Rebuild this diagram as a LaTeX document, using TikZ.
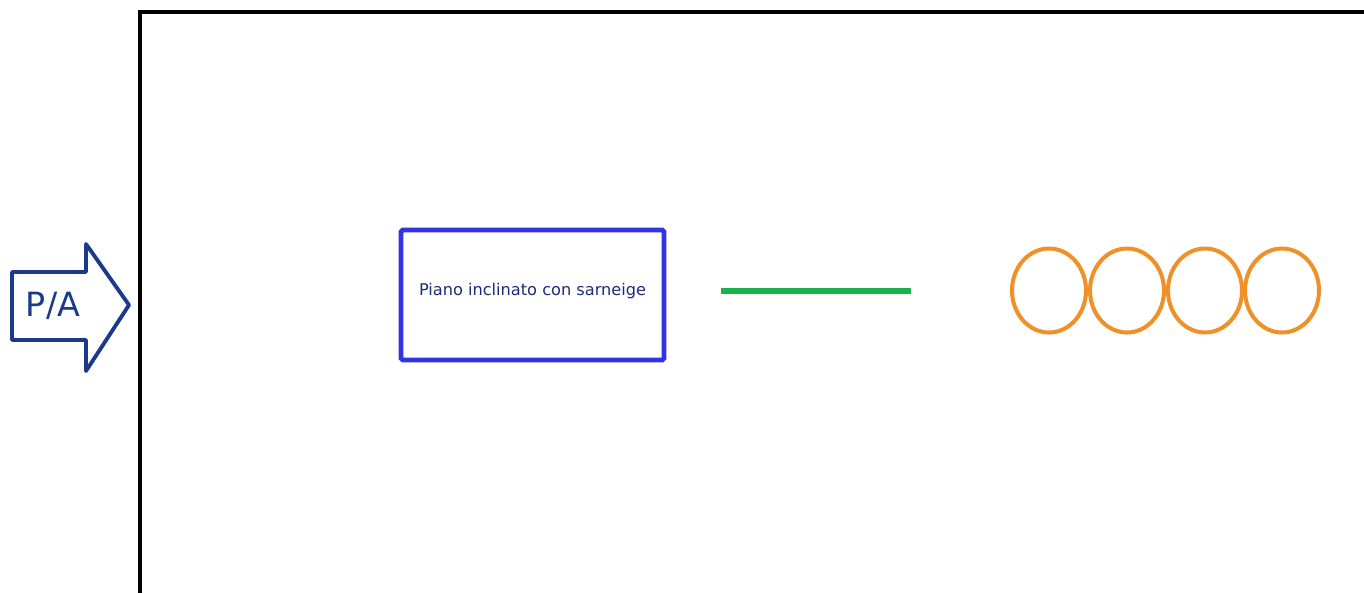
\documentclass[tikz,border=0pt]{standalone}
\usepackage{fontspec}
\setmainfont{DejaVu Sans}
\usetikzlibrary{shapes.geometric}
\definecolor{navy}{HTML}{1B3A8C}
\definecolor{inkblue}{HTML}{1E2A78}
\definecolor{boxblue}{HTML}{3232E6}
\definecolor{railgreen}{HTML}{1DB050}
\definecolor{ringorange}{HTML}{EF9128}
\tikzset{
	frameline/.style={line width=2.8pt, black},
	pianobox/.style={draw=boxblue, line width=2.8pt, rounded corners=1pt,
		minimum width=263*0.02cm, minimum height=130*0.02cm, text depth=7pt,
		text=inkblue, font=\fontsize{9.2}{10}\selectfont},
	ring/.style={ellipse, draw=ringorange, line width=2.3pt, inner sep=0pt,
		minimum width=74*0.02cm, minimum height=84*0.02cm}
}
\begin{document}
\begin{tikzpicture}[x=0.02cm, y=-0.02cm]
		\useasboundingbox (0,0) rectangle (1364,593);
		\draw[frameline] (140,593) -- (140,12) -- (1364,12);
		\draw[navy, line width=2.2pt, line join=round]
		(12,272) -- (86,272) -- (86,244) -- (129,305) -- (86,371)
		-- (86,340) -- (12,340) -- cycle;
		\node[text=navy, font=\fontsize{19}{22}\selectfont] (pa) at (53,306) {P/A};
		\node[pianobox] (piano) at (532.5,295) {Piano inclinato con sarneige};
		\coordinate (railL) at (721,291);
		\coordinate (railR) at (911,291);
		\draw[railgreen, line width=3.2pt] (railL) -- (railR);
		\foreach \i/\x in {1/1049, 2/1127, 3/1205, 4/1282}
		{
			\node[ring] (ring\i) at (\x,290.5) {};
		}
		\end{tikzpicture}
\end{document}
